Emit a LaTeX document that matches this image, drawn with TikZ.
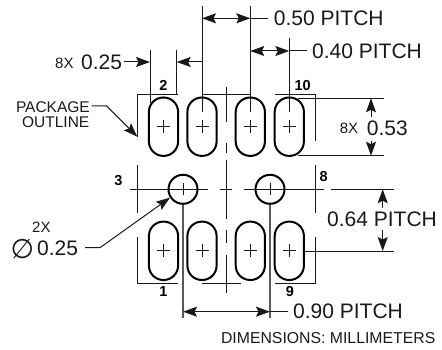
\documentclass[tikz,border=0pt]{standalone}
\usepackage{fontspec}
\setmainfont{Liberation Sans}
\newfontfamily\symfont{DejaVu Sans}
\usetikzlibrary{arrows.meta}
\newcommand{\fsz}[1]{\fontsize{#1}{#1}\selectfont}
\tikzset{
  x=1pt,y=-1pt,
  thinl/.style={line width=1pt,draw=black!90},
  graylead/.style={line width=1.4pt,draw=black!65},
  padl/.style={line width=2pt,draw=black},
  tipe/.style={-{Stealth[length=14pt,width=10pt,inset=2.5pt]}},
  tips/.style={{Stealth[length=14pt,width=10pt,inset=2.5pt]}-},
  tipb/.style={{Stealth[length=14pt,width=10pt,inset=2.5pt]}-{Stealth[length=14pt,width=10pt,inset=2.5pt]}},
  big/.style={inner sep=0pt,font=\fsz{21},text=black!90},
  small/.style={inner sep=0pt,font=\fsz{15},text=black!90},
  pinl/.style={inner sep=0pt,font=\fsz{14.5}\bfseries,text=black},
}
\begin{document}
\begin{tikzpicture}
\useasboundingbox (0,0) rectangle (442,350);
% pads
\foreach \px in {163.5,202,250.3,289.3}{
  \foreach \py in {126.7,250.8}{
    \draw[padl,rounded corners=14.4pt] (\px-14.6,\py-29.2) rectangle (\px+14.6,\py+29.2);
    \draw[thinl] (\px-6.5,\py) -- (\px+6.5,\py) (\px,\py-6.5) -- (\px,\py+6.5);
  }
}
% circles
\foreach \cx/\nm in {183/ca,270/cb}{
  \node[circle,draw=black,line width=2pt,minimum size=29pt,inner sep=0pt] (\nm) at (\cx,189.3) {};
  \draw[thinl] (\cx,183) -- (\cx,195.5);
  \draw[graylead] (\nm.south) -- (\cx,318.3);
}
% package outline
\draw[thinl] (137.3,136.7) -- (137.3,94.3) -- (178,94.3);
\draw[thinl] (202,94.3) -- (250.3,94.3);
\draw[thinl] (274.7,94.3) -- (315.3,94.3) -- (315.3,140.7);
\draw[thinl] (137.3,165) -- (137.3,212.7) (137.3,237.3) -- (137.3,283.3) -- (178,283.3);
\draw[thinl] (202.3,283.3) -- (241,283.3);
\draw[thinl] (274.7,283.3) -- (315.3,283.3) -- (315.3,237.3) (315.3,212.7) -- (315.3,165);
% centre lines
\draw[thinl] (226.3,86.7) -- (226.3,121.7) (226.3,143.3) -- (226.3,153.3) (226.3,160) -- (226.3,219) (226.3,230) -- (226.3,243) (226.3,255) -- (226.3,293);
\draw[thinl] (129.7,189.2) -- (208.3,189.2) (220,189.2) -- (232,189.2) (244,189.2) -- (324,189.2) (331,189.2) -- (394.3,189.2);
\draw[thinl] (303.7,251) -- (394.3,251);
% extension lines
\draw[thinl] (150,50) -- (150,103.5) (176.7,50) -- (176.7,94.3);
\draw[thinl] (202,6) -- (202,112) (250.3,6) -- (250.3,112) (289.3,38) -- (289.3,112);
\draw[thinl] (297.7,98.3) -- (384.3,98.3) (297.7,155.7) -- (384.3,155.7);
% texts
\node[big,anchor=west] (p50) at (273.7,18.3) {0.50 PITCH};
\node[big,anchor=west] (p40) at (312,51) {0.40 PITCH};
\node[big,anchor=west] (p64) at (327,219.3) {0.64 PITCH};
\node[big,anchor=west] (p90) at (293,311.7) {0.90 PITCH};
\node[big,anchor=west] (w25) at (81,62.7) {0.25};
\node[small,anchor=west] (w8x) at (55,63.3) {8X};
\node[big,anchor=west] (h53) at (366.7,128.3) {0.53};
\node[small,anchor=west] (h8x) at (339.7,128.8) {8X};
\node[big,anchor=west] (d25) at (37,248.3) {0.25};
\node[small,anchor=west] (d2x) at (32,227.3) {2X};
\node[inner sep=0pt,font=\symfont\fsz{27},text=black!90] (dsym) at (22.5,249.3) {∅};
\node[small,anchor=east,font=\fsz{15.5}] (pk1) at (90,106.7) {PACKAGE};
\node[small,anchor=east,font=\fsz{15.5}] (pk2) at (89.5,122.3) {OUTLINE};
\node[small,anchor=east,font=\fsz{15.8}] (dims) at (435.5,338.3) {DIMENSIONS: MILLIMETERS};
\node[pinl] (n2) at (163.5,85.7) {2};
\node[pinl] (n10) at (302.7,86) {10};
\node[pinl] (n3) at (118.3,180.7) {3};
\node[pinl] (n8) at (323.7,176.7) {8};
\node[pinl] (n1) at (163.5,291.7) {1};
\node[pinl] (n9) at (290,291.7) {9};
% dimension arrows
\draw[thinl,tipb] (202,18.3) -- (250.3,18.3);
\draw[thinl] (250.3,18.3) -- (268,18.3);
\draw[thinl,tipb] (250.3,51) -- (289.3,51);
\draw[thinl] (289.3,51) -- (307,51);
\draw[thinl,tipe] (124,62) -- (150,62);
\draw[thinl,tipe] (202,62) -- (176.7,62);
\draw[thinl,tips] (371,98.3) -- (371,117);
\draw[thinl,tipe] (371,140.7) -- (371,155.7);
\draw[thinl,tips] (382.7,189.2) -- (382.7,208);
\draw[thinl,tipe] (382.7,230) -- (382.7,251);
\draw[thinl,tipb] (183,311.7) -- (270,311.7);
\draw[thinl] (270,311.7) -- (287.7,311.7);
% leaders
\draw[thinl,tipe] (91.7,106) -- (106.7,106) -- (137.3,136.7);
\draw[thinl,tipe] (85,247.7) -- (100,247.7) -- (170,197.7);
\end{tikzpicture}
\end{document}
